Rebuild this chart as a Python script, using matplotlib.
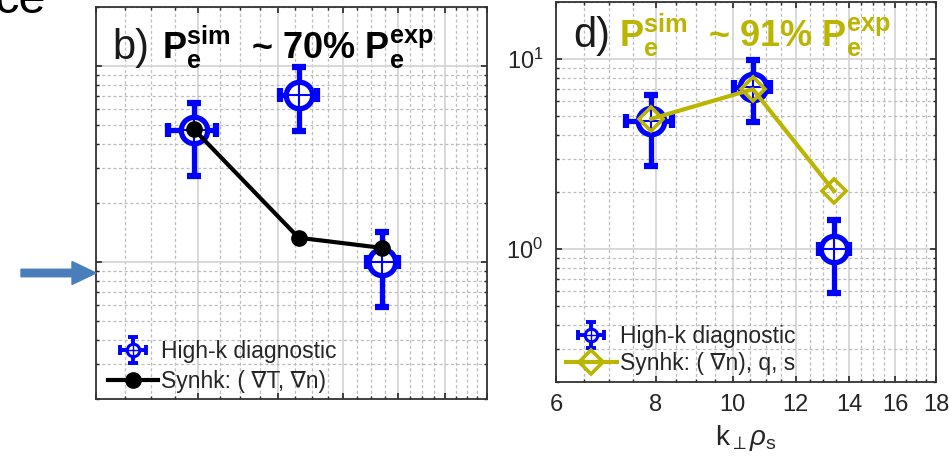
import matplotlib
matplotlib.use('Agg')
import matplotlib.pyplot as plt
from matplotlib.lines import Line2D
from matplotlib.path import Path
from matplotlib.patches import FancyArrow
from matplotlib.legend_handler import HandlerTuple
from matplotlib.ticker import MultipleLocator, FormatStrFormatter, LogLocator, NullFormatter

plt.rcParams['font.family'] = ['Liberation Sans', 'DejaVu Sans']
plt.rcParams['mathtext.fontset'] = 'custom'
plt.rcParams['mathtext.rm'] = 'Liberation Sans'
plt.rcParams['mathtext.bf'] = 'Liberation Sans:bold'
plt.rcParams['mathtext.it'] = 'Liberation Sans:italic'

# high-k measurements (same in both panels)
k_exp = [7.9, 10.6, 13.4]
k_lo = [7.35, 10.05, 12.85]
k_hi = [8.4, 11.15, 14.0]
p_exp = [4.7, 7.1, 1.0]
p_lo = [2.75, 4.65, 0.59]
p_hi = [6.5, 9.9, 1.42]

# synthetic diagnostic
k_syn = [7.9, 10.6, 13.4]
p_syn_b = [4.75, 1.33, 1.18]
p_syn_d = [4.85, 6.95, 2.02]

x_ticks = [6, 8, 10, 12, 14, 16, 18]

BLUE = '#0000ff'
OLIVE = '#b9b500'
TXT = '#262626'

xerr = [[k - lo for k, lo in zip(k_exp, k_lo)], [hi - k for k, hi in zip(k_exp, k_hi)]]
yerr = [[p - lo for p, lo in zip(p_exp, p_lo)], [hi - p for p, hi in zip(p_exp, p_hi)]]

# small errorbar glyph for the legend
cross = Path([(-1, 0), (1, 0), (0, -1), (0, 1),
              (-1, -0.35), (-1, 0.35), (1, -0.35), (1, 0.35),
              (-0.35, -1), (0.35, -1), (-0.35, 1), (0.35, 1)],
             [Path.MOVETO, Path.LINETO] * 6)
hk_handle = (Line2D([], [], ls='', marker=cross, ms=19, mew=2.8, color=BLUE),
             Line2D([], [], ls='', marker='o', ms=9, mfc='white', mec=BLUE, mew=2.2),
             Line2D([], [], ls='', marker='+', ms=9, mew=1, color=BLUE))

fig = plt.figure(figsize=(9.49, 4.62), dpi=100)
ax_b = fig.add_axes([0.1012, 0.1364, 0.4120, 0.8485])
ax_d = fig.add_axes([0.5859, 0.1732, 0.4004, 0.8225])


def setup(ax):
    ax.set_xscale('log')
    ax.set_yscale('log')
    ax.set_xlim(6, 18)
    ax.set_ylim(0.2, 20)
    ax.xaxis.set_major_locator(MultipleLocator(2))
    ax.xaxis.set_minor_locator(MultipleLocator(0.5))
    ax.xaxis.set_major_formatter(FormatStrFormatter('%d'))
    ax.xaxis.set_minor_formatter(NullFormatter())
    ax.yaxis.set_major_locator(LogLocator(base=10))
    ax.yaxis.set_minor_locator(LogLocator(base=10, subs=range(2, 10)))
    ax.yaxis.set_minor_formatter(NullFormatter())
    ax.grid(which='major', color='#d6d6d6', lw=1.3, ls='-')
    ax.grid(which='minor', color='#bdbdbd', lw=0.9, ls=(0, (2.5, 2)))
    ax.set_axisbelow(True)
    ax.tick_params(which='both', direction='in', top=True, right=True,
                   color=TXT, labelsize=17, labelcolor=TXT)
    ax.tick_params(which='major', length=4, width=1.2, pad=9)
    ax.tick_params(which='minor', length=2.5, width=1.0)
    for s in ax.spines.values():
        s.set_linewidth(1.3)
        s.set_color('#333333')


def high_k(ax):
    ax.errorbar(k_exp, p_exp, xerr=xerr, yerr=yerr, fmt='none', ecolor=BLUE,
                elinewidth=3.8, capsize=5, capthick=4.5, zorder=3)
    ax.plot(k_exp, p_exp, ls='', marker='o', ms=19, mfc='white', mec=BLUE, mew=3.8, zorder=4)
    ax.plot(k_exp, p_exp, ls='', marker='+', ms=19, mew=1.5, color=BLUE, zorder=4)


legend_kw = dict(handler_map={tuple: HandlerTuple(ndivide=1, pad=0)},
                 loc='lower left', frameon=False, fontsize=16.5,
                 handlelength=2.2, handletextpad=0.15, borderaxespad=0.0, labelcolor=TXT)

# panel b
setup(ax_b)
ax_b.tick_params(labelleft=False, labelbottom=False)
high_k(ax_b)
syn_b, = ax_b.plot(k_syn, p_syn_b, color='black', lw=3, marker='o', ms=11, zorder=5)
ax_b.text(0.041, 0.867, 'b)', transform=ax_b.transAxes, fontsize=30, color='#1a1a1a', va='baseline')
ax_b.text(0.169, 0.867, r'P$_\mathbf{e}^\mathbf{sim}$  ~ 70% P$_\mathbf{e}^\mathbf{exp}$',
          transform=ax_b.transAxes, fontsize=26, fontweight='bold', color='black', va='baseline')
ax_b.legend([hk_handle, syn_b], ['High-k diagnostic', 'Synhk: ( \u2207T, \u2207n)'],
            bbox_to_anchor=(0.015, 0.0), labelspacing=0.3, borderpad=0.25, **legend_kw)

# panel d
setup(ax_d)
high_k(ax_d)
syn_d, = ax_d.plot(k_syn, p_syn_d, color=OLIVE, lw=3, marker='D', ms=12, mfc='none',
                   mec=OLIVE, mew=2.6, zorder=5)
ax_d.text(0.045, 0.882, 'd)', transform=ax_d.transAxes, fontsize=30, color='#1a1a1a', va='baseline')
ax_d.text(0.166, 0.882, r'P$_\mathbf{e}^\mathbf{sim}$  ~ 91% P$_\mathbf{e}^\mathbf{exp}$',
          transform=ax_d.transAxes, fontsize=26, fontweight='bold', color=OLIVE, va='baseline')
ax_d.legend([hk_handle, syn_d], ['High-k diagnostic', 'Synhk: ( \u2207n), q, s'],
            bbox_to_anchor=(0.021, 0.012), labelspacing=0.2, borderpad=0.1, **legend_kw)
ax_d.set_xticks(x_ticks)
ax_d.set_xlabel(r'k$_\perp\rho_\mathrm{s}$', fontsize=20, color=TXT, labelpad=5)

# arrow pointing at the left axis
fig.add_artist(FancyArrow(0.21, 1.89, 0.75, 0, width=0.075, head_width=0.23,
                          head_length=0.24, length_includes_head=True,
                          color='#4a7ebb', transform=fig.dpi_scale_trans))

# leftover caption text at the top edge
fig.text(46 / 949, 1 - 13 / 462, 'ce', fontsize=35, ha='right', va='baseline', color='black')

fig.savefig('out.png', dpi=100)
